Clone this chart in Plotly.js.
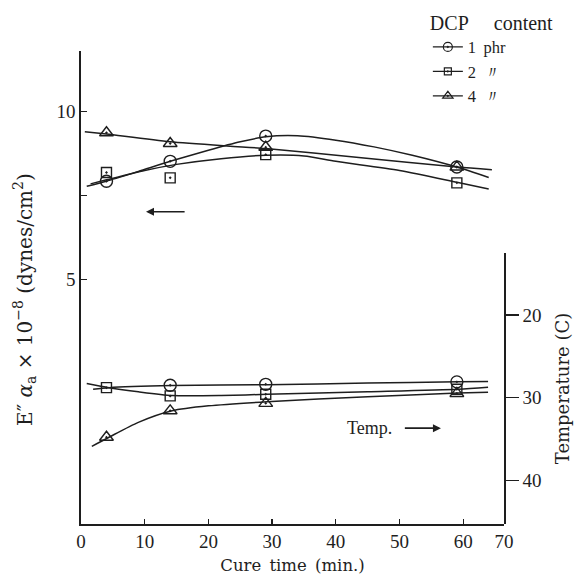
<!DOCTYPE html>
<html>
<head>
<meta charset="utf-8">
<script src="https://cdn.plot.ly/plotly-3.0.1.min.js"></script>
<style>html,body{margin:0;padding:0;background:#fff;}#chart{width:583px;height:582px;}</style>
</head>
<body>
<div id="chart"></div>
<script>
// ---- data ----
var cureTime = [4, 14, 29, 59];                 // min
// E'' alpha_a x 1e-8 (dynes/cm2), left axis
var eLoss1 = [7.93, 8.52, 9.27, 8.35];
var eLoss2 = [8.19, 8.03, 8.72, 7.88];
var eLoss4 = [9.37, 9.05, 8.94, 8.35];
// Temperature (C), right axis
var temp1 = [null, 28.5, 28.4, 28.1];
var temp2 = [28.8, 29.8, 29.6, 29.0];
var temp4 = [34.8, 31.6, 30.7, 29.5];

// hand-drawn fitted curves
var eCurve1X = [0.9, 4, 9, 14, 20, 25, 29, 34, 40, 46, 52, 59, 64];
var eCurve1Y = [7.78, 7.93, 8.22, 8.52, 8.85, 9.1, 9.25, 9.28, 9.15, 8.95, 8.7, 8.35, 8.04];
var eCurve2X = [1.5, 4, 10, 15, 22, 29, 35, 40, 50, 59, 64];
var eCurve2Y = [7.85, 7.97, 8.25, 8.43, 8.6, 8.7, 8.68, 8.52, 8.25, 7.9, 7.70];
var eCurve4X = [0.6, 4, 14, 29, 44, 59, 64.5];
var eCurve4Y = [9.40, 9.33, 9.1, 8.9, 8.63, 8.35, 8.27];

var tCurve1X = [1.9, 4.4, 14.3, 29.2, 45, 59.2, 63.9];
var tCurve1Y = [29.0, 28.8, 28.55, 28.45, 28.25, 28.1, 28.05];
var tCurve2X = [0.9, 4.4, 9, 14.3, 22, 29.2, 45, 59.2, 63.9];
var tCurve2Y = [28.3, 28.8, 29.3, 29.75, 29.75, 29.6, 29.3, 29.0, 28.75];
var tCurve4X = [1.7, 4.4, 9, 14.3, 20, 29.2, 45, 59.2, 63.9];
var tCurve4Y = [35.9, 34.8, 33.0, 31.6, 31.0, 30.5, 29.9, 29.45, 29.35];

var seriesNames = ['1\u2009 phr', '2\u2009 \u3003', '4\u2009 \u3003'];
var xTickVals = [0, 10, 20, 30, 40, 50, 60, 66.4];
var xTickText = ['0', '10', '20', '30', '40', '50', '60', '70'];
var yTickVals = [5, 7.5, 10];
var yTickText = ['5', '', '10'];
var y2TickVals = [20, 30, 40];
var y2TickText = ['20', '30', '40'];

// ---- styling ----
var INK = '#1e1e1e';
var SERIF = 'Liberation Serif, DejaVu Serif, serif';
var WIDE = 'DejaVu Serif, Liberation Serif, serif';
var symbols = ['circle-open-dot', 'square-open-dot', 'triangle-up-open-dot'];
var sizes = [12, 10, 12];

function curve(x, y, axis) {
  return {x: x, y: y, yaxis: axis, mode: 'lines', line: {color: INK, width: 1.5, shape: 'spline', smoothing: 0.7},
          showlegend: false, hoverinfo: 'skip'};
}
function pts(y, i, axis) {
  return {x: cureTime, y: y, yaxis: axis, mode: 'markers', showlegend: false,
          marker: {symbol: symbols[i], size: sizes[i], color: INK, line: {color: INK, width: 1.4}}};
}
function leg(i) {
  return {x: [null], y: [null], mode: 'lines+markers', name: seriesNames[i], showlegend: true,
          line: {color: INK, width: 1.3},
          marker: {symbol: symbols[i], size: sizes[i] - 3, color: INK, line: {color: INK, width: 1.2}}};
}

var traces = [
  curve(eCurve1X, eCurve1Y, 'y'), curve(eCurve2X, eCurve2Y, 'y'), curve(eCurve4X, eCurve4Y, 'y'),
  curve(tCurve1X, tCurve1Y, 'y2'), curve(tCurve2X, tCurve2Y, 'y2'), curve(tCurve4X, tCurve4Y, 'y2'),
  pts(eLoss1, 0, 'y'), pts(eLoss2, 1, 'y'), pts(eLoss4, 2, 'y'),
  pts(temp1, 0, 'y2'), pts(temp2, 1, 'y2'), pts(temp4, 2, 'y2'),
  leg(0), leg(1), leg(2)
];

var layout = {
  width: 583, height: 582,
  margin: {l: 81, r: 79, t: 51, b: 58, autoexpand: false},
  paper_bgcolor: '#fff', plot_bgcolor: 'rgba(0,0,0,0)',
  font: {family: SERIF, color: INK, size: 18},
  showlegend: true,
  legend: {x: 0.82, y: 1.10, xanchor: 'left', yanchor: 'top', bgcolor: 'rgba(0,0,0,0)',
           font: {family: SERIF, size: 16.5, color: INK}, tracegroupgap: 0, itemwidth: 30,
           title: {text: 'DCP\u2003 content', font: {family: SERIF, size: 20, color: INK}}},
  xaxis: {range: [0, 66.4], tickmode: 'array', tickvals: xTickVals, ticktext: xTickText,
          ticks: 'inside', ticklen: 5, tickwidth: 1.3, tickcolor: INK,
          showline: true, linecolor: INK, linewidth: 1.6, showgrid: false, zeroline: false,
          tickfont: {family: SERIF, size: 19, color: INK},
          title: {text: 'Cure\u2002time\u2002(min.)', font: {family: WIDE, size: 16.5, color: INK}, standoff: 8}},
  yaxis: {range: [-2.26, 11.8], domain: [0, 1], anchor: 'x', side: 'left',
          tickmode: 'array', tickvals: yTickVals, ticktext: yTickText,
          ticks: 'inside', ticklen: 6, tickwidth: 1.3, tickcolor: INK,
          showline: true, linecolor: INK, linewidth: 1.6, showgrid: false, zeroline: false,
          tickfont: {family: SERIF, size: 19, color: INK}},
  yaxis2: {range: [45.3, 12.5], domain: [0, 0.573], anchor: 'x', side: 'right',
           tickmode: 'array', tickvals: y2TickVals, ticktext: y2TickText,
           ticks: 'outside', ticklen: 13, tickwidth: 1.3, tickcolor: INK,
           showline: true, linecolor: INK, linewidth: 1.6, showgrid: false, zeroline: false,
           tickfont: {family: SERIF, size: 19, color: INK},
           title: {text: 'Temperature (C)', font: {family: WIDE, size: 18, color: INK}, standoff: 16}},
  annotations: [
    {xref: 'paper', yref: 'paper', x: -0.132, y: 0.474, xanchor: 'center', yanchor: 'middle',
     textangle: -90, showarrow: false,
     text: 'E\u2033 <i>\u03b1</i><sub>a</sub> \u00d7 10<sup>\u22128</sup> (dynes/cm<sup>2</sup>)',
     font: {family: WIDE, size: 20, color: INK}},
    {xref: 'x', yref: 'y', axref: 'x', ayref: 'y', x: 10.2, y: 7.02, ax: 16.5, ay: 7.02,
     text: '', showarrow: true, arrowhead: 2, arrowsize: 1, arrowwidth: 1.6, arrowcolor: INK},
    {xref: 'x', yref: 'y2', x: 45.3, y: 33.7, text: 'Temp.', showarrow: false,
     font: {family: SERIF, size: 18, color: INK}},
    {xref: 'x', yref: 'y2', axref: 'x', ayref: 'y2', x: 56.5, y: 33.7, ax: 50.6, ay: 33.7,
     text: '', showarrow: true, arrowhead: 2, arrowsize: 1, arrowwidth: 1.6, arrowcolor: INK}
  ]
};

Plotly.newPlot('chart', traces, layout, {displayModeBar: false, staticPlot: true});
</script>
</body>
</html>
